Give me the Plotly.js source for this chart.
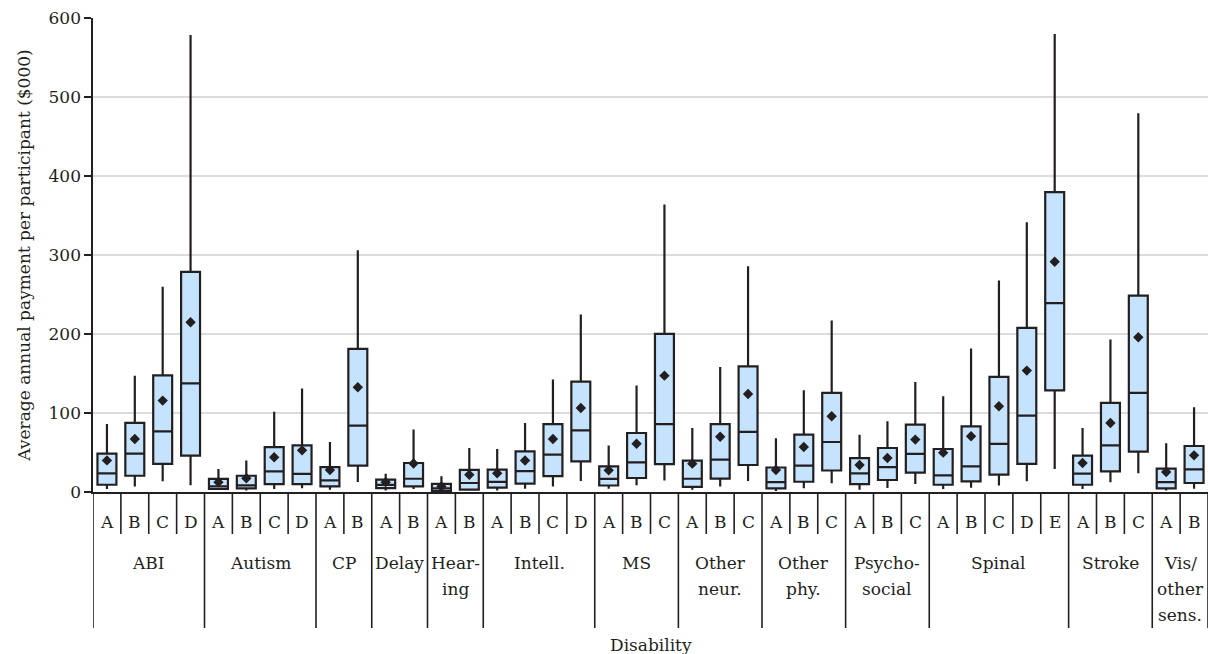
<!DOCTYPE html>
<html>
<head>
<meta charset="utf-8">
<script src="https://cdn.plot.ly/plotly-3.0.1.min.js"></script>
<style>html,body{margin:0;padding:0;background:#fff}</style>
</head>
<body>
<div id="chart" style="width:1208px;height:654px"></div>
<script>
// Disability groups and the levels shown within each group
const disabilities = ['ABI', 'Autism', 'CP', 'Delay', 'Hear-<br>ing', 'Intell.', 'MS',
  'Other<br>neur.', 'Other<br>phy.', 'Psycho-<br>social', 'Spinal', 'Stroke', 'Vis/<br>other<br>sens.'];
const levels = [
  ['A', 'B', 'C', 'D'],
  ['A', 'B', 'C', 'D'],
  ['A', 'B'],
  ['A', 'B'],
  ['A', 'B'],
  ['A', 'B', 'C', 'D'],
  ['A', 'B', 'C'],
  ['A', 'B', 'C'],
  ['A', 'B', 'C'],
  ['A', 'B', 'C'],
  ['A', 'B', 'C', 'D', 'E'],
  ['A', 'B', 'C'],
  ['A', 'B']
];

// Average annual payment per participant ($000), one value per level in order
const lowerWhisker = [3.8, 7, 13.5, 8.4, 3, 2, 3.8, 4.6, 3, 12.7, 2, 3.8, 0.5, 1.5,
  2, 4.2, 7, 13.8, 4, 8.6, 14.7, 3, 7, 13.9, 1.3, 4.6, 11.2, 3, 5, 10.2,
  3.8, 5.5, 8.2, 13.5, 29, 3.8, 12.5, 23.6, 2, 4.2];
const quartile1 = [9.2, 20.6, 35.5, 46, 3.8, 4.6, 10, 10, 7, 33.5, 4.8, 7, 1, 3,
  5.5, 10.5, 20.2, 38.8, 8.2, 17.7, 35.2, 6.6, 17, 34.2, 4.6, 13, 27.2, 10, 15.2, 24.4,
  9.2, 13.5, 21.9, 35.7, 128.7, 9.2, 26, 51.2, 4.6, 11.4];
const medians = [23.6, 48.5, 76.8, 137.6, 7, 8.4, 26, 23, 14.7, 84, 9, 16.8, 4.5, 11.4,
  12.7, 26.5, 47.3, 78, 16.6, 37.5, 86, 16.8, 40.9, 76, 12.5, 33.3, 63.3, 23.6, 31.5, 48.3,
  21, 32.4, 61, 96.7, 239, 23.2, 59, 125.4, 12.5, 28.6];
const quartile3 = [48.5, 87.4, 147.7, 278.7, 16.5, 20.6, 56.8, 59, 31.5, 181.2, 15.6, 36.7, 10.3, 28,
  28.2, 51.4, 86, 139.7, 32.4, 74.7, 200.2, 39.8, 86, 159.1, 31, 72.6, 125.4, 43, 55.7, 85.3,
  54.4, 83.1, 145.7, 207.8, 379.6, 46, 112.8, 248.7, 29.5, 58.2];
const upperWhisker = [86, 147, 259.7, 578.5, 29, 40, 101.7, 131, 63.3, 306, 23, 79, 20, 55.7,
  54.4, 87.4, 142.3, 224.6, 59, 134.7, 364, 81, 158.3, 285.8, 68, 128.7, 217, 72.6, 89.4, 139.2,
  121.1, 181.6, 267.7, 341.6, 579.8, 81, 193, 479.3, 61.6, 107.2];
const means = [40, 67, 115.7, 214.9, 12.5, 17.5, 44, 52.7, 27.8, 132.6, 12.5, 36, 7, 21.9,
  23.6, 39.8, 67, 106.4, 27.4, 61, 147.3, 35.9, 70, 124, 27.8, 57, 95.8, 34.2, 43, 66.3,
  49.8, 70.5, 108.5, 153.7, 291.4, 36.7, 87.4, 195.9, 25.3, 46.4];

const yTitle = 'Average annual payment per participant ($000)';
const xTitle = 'Disability';

// Styling
const ink = '#231f20';
const boxFill = '#c5e3fc';
const fontFamily = 'DejaVu Serif, serif';
const W = 1208, H = 654;
const margin = {l: 93, r: 0, t: 18, b: 162};
const plotH = H - margin.t - margin.b;
const below = px => -px / plotH;   // pixels below the x axis -> paper units

// One slot on the category axis per level
const positions = [];
const letters = [];
const groupStarts = [];
let k = 0;
levels.forEach(lv => {
  groupStarts.push(k);
  lv.forEach(l => { positions.push(k); letters.push(l); k++; });
});
const nSlots = k;

const traces = [
  {
    type: 'box',
    x: positions,
    lowerfence: lowerWhisker,
    q1: quartile1,
    median: medians,
    q3: quartile3,
    upperfence: upperWhisker,
    width: 0.68,
    whiskerwidth: 0,
    boxpoints: false,
    fillcolor: boxFill,
    line: {color: ink, width: 2.2},
    hoverinfo: 'skip'
  },
  {
    type: 'scatter',
    mode: 'markers',
    x: positions,
    y: means,
    marker: {symbol: 'diamond', size: 8, color: ink},
    hoverinfo: 'skip'
  }
];

const shapes = [];
const annotations = [];

// Dividers between levels (short) and between disability groups (long)
for (let b = 0; b <= nSlots; b++) {
  const isGroup = groupStarts.includes(b) || b === nSlots;
  shapes.push({
    type: 'line', xref: 'x', yref: 'paper',
    x0: b - 0.5, x1: b - 0.5, y0: 0, y1: below(isGroup ? 136 : 42),
    line: {color: ink, width: 1.6}
  });
}

// Level letters
letters.forEach((l, i) => {
  annotations.push({
    xref: 'x', yref: 'paper', x: positions[i], y: below(30),
    text: l, showarrow: false, yanchor: 'middle', xanchor: 'center',
    font: {family: fontFamily, size: 17, color: ink}
  });
});

// Disability group names, one annotation per text line
disabilities.forEach((name, g) => {
  const center = groupStarts[g] + (levels[g].length - 1) / 2;
  name.split('<br>').forEach((line, j) => {
    annotations.push({
      xref: 'x', yref: 'paper', x: center, y: below(71 + 26 * j),
      text: line, showarrow: false, yanchor: 'middle', xanchor: 'center',
      font: {family: fontFamily, size: 17, color: ink}
    });
  });
});

// Axis title under the category labels
annotations.push({
  xref: 'paper', yref: 'paper', x: 0.5, y: below(153),
  text: xTitle, showarrow: false, yanchor: 'middle', xanchor: 'center',
  font: {family: fontFamily, size: 17, color: ink}
});

const layout = {
  width: W, height: H, margin: margin,
  paper_bgcolor: '#ffffff', plot_bgcolor: '#ffffff',
  showlegend: false,
  font: {family: fontFamily, size: 17, color: ink},
  xaxis: {
    range: [-0.5, nSlots - 0.5],
    showticklabels: false, ticks: '', showgrid: false, zeroline: false,
    showline: true, linecolor: ink, linewidth: 1.6
  },
  yaxis: {
    range: [0, 600], dtick: 100,
    ticks: 'outside', ticklen: 7, tickwidth: 1.6, tickcolor: ink,
    showline: true, linecolor: ink, linewidth: 1.6,
    showgrid: true, gridcolor: '#dcdcdc', gridwidth: 1.6, zeroline: false,
    tickfont: {family: fontFamily, size: 17, color: ink},
    title: {text: yTitle, standoff: 13, font: {family: fontFamily, size: 17, color: ink}}
  },
  shapes: shapes,
  annotations: annotations
};

Plotly.newPlot('chart', traces, layout, {displayModeBar: false, staticPlot: true});
</script>
</body>
</html>
